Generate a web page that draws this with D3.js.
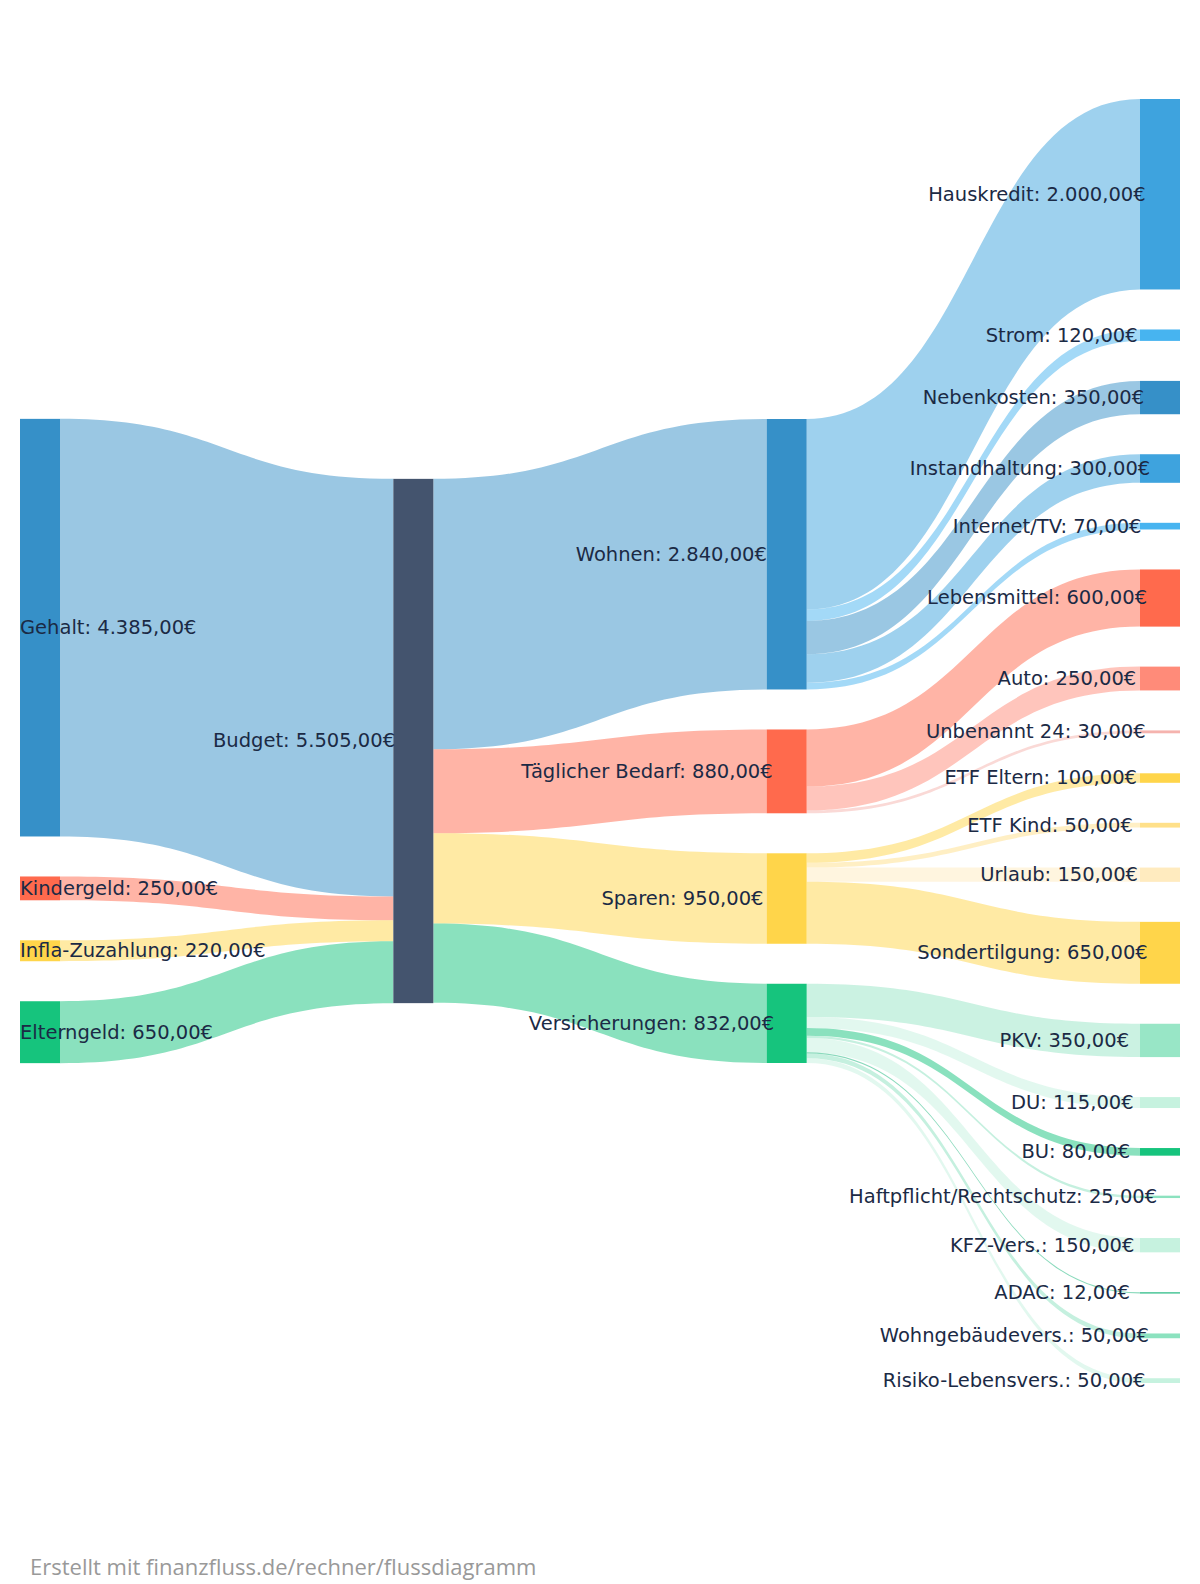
<!DOCTYPE html>
<html>
<head>
<meta charset="utf-8">
<script src="https://cdn.jsdelivr.net/npm/d3@7"></script>
<style>
  body { margin: 0; background: #fff; }
  svg { display: block; }
</style>
</head>
<body>
<svg id="chart" width="1200" height="1584"></svg>
<script>

// incoming money
var incomeNames  = ["Gehalt", "Kindergeld", "Infla-Zuzahlung", "Elterngeld"];
var incomeValues = [4385, 250, 220, 650];
var incomeColors = ["#3690c8", "#ff6a4d", "#ffd54a", "#16c47d"];

var budgetName  = "Budget";
var budgetColor = "#44546e";

// spending groups
var groupNames  = ["Wohnen", "Täglicher Bedarf", "Sparen", "Versicherungen"];
var groupColors = ["#3690c8", "#ff6a4d", "#ffd54a", "#16c47d"];

var wohnenNames  = ["Hauskredit", "Strom", "Nebenkosten", "Instandhaltung", "Internet/TV"];
var wohnenValues = [2000, 120, 350, 300, 70];
var wohnenColors = ["#3ea3de", "#47b4f0", "#3690c8", "#3ea3de", "#47b4f0"];

var bedarfNames  = ["Lebensmittel", "Auto", "Unbenannt 24"];
var bedarfValues = [600, 250, 30];
var bedarfColors = ["#ff6a4d", "#ff8b79", "#f5b3ae"];

var sparenNames  = ["ETF Eltern", "ETF Kind", "Urlaub", "Sondertilgung"];
var sparenValues = [100, 50, 150, 650];
var sparenColors = ["#ffd54a", "#ffe089", "#ffebbf", "#ffd54a"];

var versNames  = ["PKV", "DU", "BU", "Haftpflicht/Rechtschutz", "KFZ-Vers.", "ADAC", "Wohngebäudevers.", "Risiko-Lebensvers."];
var versValues = [350, 115, 80, 25, 150, 12, 50, 50];
var versColors = ["#98e6c6", "#c6f2df", "#16c47d", "#8ce2bf", "#c6f2df", "#16b57a", "#8ce2bf", "#c6f2df"];

var groupItems  = [wohnenNames, bedarfNames, sparenNames, versNames];
var groupValues = [wohnenValues, bedarfValues, sparenValues, versValues];
var groupItemColors = [wohnenColors, bedarfColors, sparenColors, versColors];

var footerText = "Erstellt mit finanzfluss.de/rechner/flussdiagramm";

var width = 1200, height = 1584;
var extent = {x0: 20, y0: 99, x1: 1180, y1: 1383};
var nodeWidth = 40, nodePadding = 40;
var labelFont = "DejaVu Sans";
var labelSize = 19.5;

var de = d3.formatLocale({decimal: ",", thousands: ".", grouping: [3], currency: ["", "€"]});
var money = de.format("$,.2f");

// build the graph
var nodes = [], links = [];

function addNode(name, value, color, column) {
   var n = {name: name, value: value, color: color, column: column, sourceLinks: [], targetLinks: []};
   nodes.push(n);
   return n;
}

function addLink(source, target, value, color) {
   var l = {source: source, target: target, value: value, color: color};
   source.sourceLinks.push(l);
   target.targetLinks.push(l);
   links.push(l);
   return l;
}

var budget = addNode(budgetName, 0, budgetColor, 1);

incomeNames.forEach(function(name, i) {
   var n = addNode(name, incomeValues[i], incomeColors[i], 0);
   addLink(n, budget, incomeValues[i], incomeColors[i]);
});

groupNames.forEach(function(name, g) {
   var total = d3.sum(groupValues[g]);
   var n = addNode(name, total, groupColors[g], 2);
   addLink(budget, n, total, groupColors[g]);
   groupItems[g].forEach(function(item, j) {
      var c = addNode(item, groupValues[g][j], groupItemColors[g][j], 3);
      addLink(n, c, groupValues[g][j], groupItemColors[g][j]);
   });
});

budget.value = Math.max(d3.sum(budget.targetLinks, function(l) { return l.value; }),
                        d3.sum(budget.sourceLinks, function(l) { return l.value; }));

// layout
var columns = d3.range(4).map(function(c) {
   return nodes.filter(function(n) { return n.column === c; });
});

var ky = d3.min(columns, function(c) {
   return (extent.y1 - extent.y0 - (c.length - 1) * nodePadding) / d3.sum(c, function(n) { return n.value; });
});

var y = d3.scaleLinear().domain([0, 1]).range([0, ky]);
var x = d3.scaleLinear().domain([0, 3]).range([extent.x0, extent.x1 - nodeWidth]);

columns.forEach(function(c) {
   var total = d3.sum(c, function(n) { return y(n.value); }) + (c.length - 1) * nodePadding;
   var pos = extent.y0 + (extent.y1 - extent.y0 - total) / 2;
   c.forEach(function(n) {
      n.x0 = x(n.column);
      n.x1 = n.x0 + nodeWidth;
      n.y0 = pos;
      n.y1 = pos + y(n.value);
      pos = n.y1 + nodePadding;
   });
});

nodes.forEach(function(n) {
   var sy = n.y0, ty = n.y0;
   n.sourceLinks.sort(function(a, b) { return a.target.y0 - b.target.y0; });
   n.targetLinks.sort(function(a, b) { return a.source.y0 - b.source.y0; });
   n.sourceLinks.forEach(function(l) {
      l.width = y(l.value);
      l.sy = sy;
      sy += l.width;
   });
   n.targetLinks.forEach(function(l) {
      l.ty = ty;
      ty += y(l.value);
   });
});

// links are filled bands with a constant vertical thickness
function bandPath(d) {
   var x0 = d.source.x1, x1 = d.target.x0, xm = (x0 + x1) / 2;
   var w = Math.max(0.6, d.width);
   var p = d3.path();
   p.moveTo(x0, d.sy);
   p.bezierCurveTo(xm, d.sy, xm, d.ty, x1, d.ty);
   p.lineTo(x1, d.ty + w);
   p.bezierCurveTo(xm, d.ty + w, xm, d.sy + w, x0, d.sy + w);
   p.closePath();
   return p.toString();
}

var svg = d3.select('#chart');

svg.append('g')
   .selectAll('path')
   .data(links)
   .join('path')
   .attr('d', bandPath)
   .attr('fill', function(d) { return d.color; })
   .attr('fill-opacity', 0.5);

svg.append('g')
   .selectAll('rect')
   .data(nodes)
   .join('rect')
   .attr('x', function(d) { return d.x0; })
   .attr('y', function(d) { return d.y0; })
   .attr('width', function(d) { return d.x1 - d.x0; })
   .attr('height', function(d) { return Math.max(1, d.y1 - d.y0); })
   .attr('fill', function(d) { return d.color; });

// labels are placed by a width measured in a narrower font, as in the original
var measure = svg.append('text')
   .style('font-family', 'Liberation Sans')
   .style('font-size', labelSize + 'px')
   .attr('visibility', 'hidden');

function refWidth(s) {
   measure.text(s);
   return measure.node().getComputedTextLength();
}

svg.append('g')
   .selectAll('text')
   .data(nodes)
   .join('text')
   .attr('x', function(d) {
      var label = d.name + ": " + money(d.value);
      return d.column === 0 ? d.x0 : d.x0 - 21 - refWidth(label);
   })
   .attr('y', function(d) { return (d.y0 + d.y1) / 2; })
   .attr('dy', '0.33em')
   .style('font-family', labelFont)
   .style('font-size', labelSize + 'px')
   .style('fill', '#1b2a45')
   .text(function(d) { return d.name + ": " + money(d.value); });

measure.remove();

svg.append('text')
   .attr('x', 30)
   .attr('y', 1575)
   .style('font-family', 'Open Sans')
   .style('font-size', '22px')
   .style('fill', '#999')
   .text(footerText);

</script>
</body>
</html>
